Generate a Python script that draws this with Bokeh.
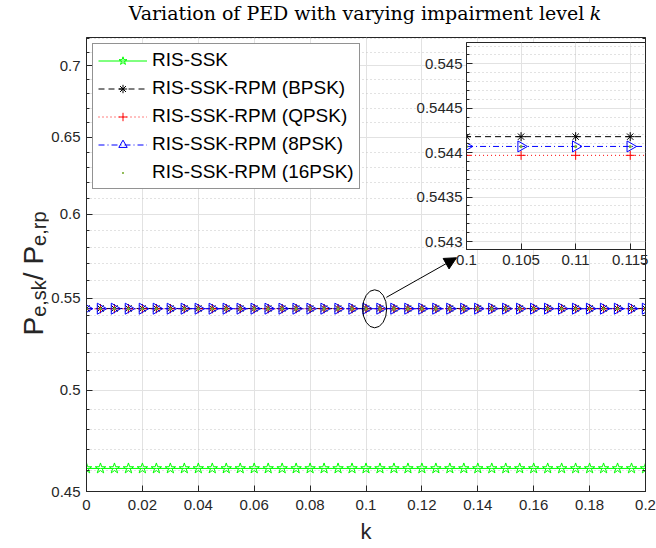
import numpy as np
from bokeh.plotting import figure
from bokeh.layouts import column, row
from bokeh.core.properties import value
from bokeh.models import (FixedTicker, CustomJSTickFormatter, Arrow, NormalHead,
                          Legend, LegendItem, LogAxis, Range1d)
from bokeh.embed import file_html
from bokeh.resources import INLINE

# ---------------- data ----------------
k_values = [0.0, 0.005, 0.01, 0.015, 0.02, 0.025, 0.03, 0.035, 0.04, 0.045,
            0.05, 0.055, 0.06, 0.065, 0.07, 0.075, 0.08, 0.085, 0.09, 0.095,
            0.1, 0.105, 0.11, 0.115, 0.12, 0.125, 0.13, 0.135, 0.14, 0.145,
            0.15, 0.155, 0.16, 0.165, 0.17, 0.175, 0.18, 0.185, 0.19, 0.195, 0.2]
ris_ssk = [0.4609, 0.4609, 0.4609, 0.4609, 0.4609, 0.4609, 0.4609, 0.4609, 0.4609, 0.4609,
           0.4609, 0.4609, 0.4609, 0.4609, 0.4609, 0.4609, 0.4609, 0.4609, 0.4609, 0.4609,
           0.4609, 0.4609, 0.4609, 0.4609, 0.4609, 0.4609, 0.4609, 0.4609, 0.4609, 0.4609,
           0.4609, 0.4609, 0.4609, 0.4609, 0.4609, 0.4609, 0.4609, 0.4609, 0.4609, 0.4609, 0.4609]
rpm_bpsk = [0.54418, 0.54418, 0.54418, 0.54418, 0.54418, 0.54418, 0.54418, 0.54418, 0.54418, 0.54418,
            0.54418, 0.54418, 0.54418, 0.54418, 0.54418, 0.54418, 0.54418, 0.54418, 0.54418, 0.54418,
            0.54418, 0.54418, 0.54418, 0.54418, 0.54418, 0.54418, 0.54418, 0.54418, 0.54418, 0.54418,
            0.54418, 0.54418, 0.54418, 0.54418, 0.54418, 0.54418, 0.54418, 0.54418, 0.54418, 0.54418, 0.54418]
rpm_qpsk = [0.54397, 0.54397, 0.54397, 0.54397, 0.54397, 0.54397, 0.54397, 0.54397, 0.54397, 0.54397,
            0.54397, 0.54397, 0.54397, 0.54397, 0.54397, 0.54397, 0.54397, 0.54397, 0.54397, 0.54397,
            0.54397, 0.54397, 0.54397, 0.54397, 0.54397, 0.54397, 0.54397, 0.54397, 0.54397, 0.54397,
            0.54397, 0.54397, 0.54397, 0.54397, 0.54397, 0.54397, 0.54397, 0.54397, 0.54397, 0.54397, 0.54397]
rpm_8psk = [0.54407, 0.54407, 0.54407, 0.54407, 0.54407, 0.54407, 0.54407, 0.54407, 0.54407, 0.54407,
            0.54407, 0.54407, 0.54407, 0.54407, 0.54407, 0.54407, 0.54407, 0.54407, 0.54407, 0.54407,
            0.54407, 0.54407, 0.54407, 0.54407, 0.54407, 0.54407, 0.54407, 0.54407, 0.54407, 0.54407,
            0.54407, 0.54407, 0.54407, 0.54407, 0.54407, 0.54407, 0.54407, 0.54407, 0.54407, 0.54407, 0.54407]
rpm_16psk = [0.54407, 0.54407, 0.54407, 0.54407, 0.54407, 0.54407, 0.54407, 0.54407, 0.54407, 0.54407,
             0.54407, 0.54407, 0.54407, 0.54407, 0.54407, 0.54407, 0.54407, 0.54407, 0.54407, 0.54407,
             0.54407, 0.54407, 0.54407, 0.54407, 0.54407, 0.54407, 0.54407, 0.54407, 0.54407, 0.54407,
             0.54407, 0.54407, 0.54407, 0.54407, 0.54407, 0.54407, 0.54407, 0.54407, 0.54407, 0.54407, 0.54407]

series_labels = ["RIS-SSK", "RIS-SSK-RPM (BPSK)", "RIS-SSK-RPM (QPSK)",
                 "RIS-SSK-RPM (8PSK)", "RIS-SSK-RPM (16PSK)"]

x_ticks = [0, 0.02, 0.04, 0.06, 0.08, 0.1, 0.12, 0.14, 0.16, 0.18, 0.2]
y_ticks = [0.45, 0.5, 0.55, 0.6, 0.65, 0.7]
y_minor = [0.46, 0.47, 0.48, 0.49, 0.51, 0.52, 0.53, 0.54, 0.56, 0.57, 0.58, 0.59,
           0.61, 0.62, 0.63, 0.64, 0.66, 0.67, 0.68, 0.69, 0.71, 0.72]

inset_x_ticks = [0.1, 0.105, 0.11, 0.115]
inset_y_ticks = [0.543, 0.5435, 0.544, 0.5445, 0.545]
inset_y_minor = [0.5429, 0.5431, 0.5432, 0.5433, 0.5434, 0.5436, 0.5437, 0.5438, 0.5439,
                 0.5441, 0.5442, 0.5443, 0.5444, 0.5446, 0.5447, 0.5448, 0.5449, 0.5451, 0.5452]

title_main = "Variation of PED with varying impairment level"
title_var = "k"
x_label = "k"
# y label "P_{e,sk}/ P_{e,rp}" as (text, is_subscript)
y_label_parts = [("P", False), ("e,sk", True), ("/ ", False), ("P", False), ("e,rp", True)]

# zoom marker (ellipse) and arrow end points, in data units
zoom_center = (0.1031, 0.544)
arrow_start = (0.1073, 0.5505)
arrow_end = (0.1324, 0.5736)

TXT = "#262626"
GRID = "#e2e2e2"
MINOR = "#c4c4c4"
FONT = "Liberation Sans"
H = 548
TOP = 37          # height of the title strip (frame top)
YW = 48           # visible width of the y-label strip
YS = 100          # drawn width of the y-label strip (overlapped by the main plot)
FW, FH = 559, 454
PL, PR, PB = 86 - YW, 11, 57
PW = PL + FW + PR

def tostr():
    return CustomJSTickFormatter(code="return tick.toString();")

def blank():
    return CustomJSTickFormatter(code="return '';")

def style_axis(ax, minor=True):
    ax.axis_line_color = TXT
    ax.major_tick_line_color = TXT
    ax.minor_tick_line_color = TXT if minor else None
    ax.major_tick_in = 6
    ax.major_tick_out = 0
    ax.minor_tick_in = 3
    ax.minor_tick_out = 0
    ax.major_label_text_color = TXT
    ax.major_label_text_font = FONT
    ax.major_label_text_font_size = "15px"

def text_strip(w, h):
    f = figure(width=w, height=h, x_range=Range1d(0, w), y_range=Range1d(0, h),
               x_axis_location=None, y_axis_location=None, title_location=None,
               output_backend="svg", toolbar_location=None, min_border=0)
    f.grid.visible = False
    f.outline_line_color = None
    f.background_fill_alpha = 0
    f.border_fill_alpha = 0
    return f

def add_series(fig, xr):
    rs = []
    l0 = fig.line(xr, ris_ssk, line_color="#00ff00", line_width=1)
    m0 = fig.scatter(xr, ris_ssk, marker="star", size=11, line_color="#00ff00", fill_color=None)
    rs.append([l0, m0])
    l1 = fig.line(xr, rpm_bpsk, line_color="black", line_width=1, line_dash="6 4")
    m1 = fig.scatter(xr, rpm_bpsk, marker="asterisk", size=9, line_color="black")
    rs.append([l1, m1])
    l2 = fig.line(xr, rpm_qpsk, line_color="#ff0000", line_width=1, line_dash="1 3")
    m2 = fig.scatter(xr, rpm_qpsk, marker="cross", size=9, line_color="#ff0000")
    rs.append([l2, m2])
    l3 = fig.line(xr, rpm_8psk, line_color="#0000ff", line_width=1, line_dash="6 3 1 3")
    m3 = fig.scatter(xr, rpm_8psk, marker="triangle", angle=-np.pi / 2, size=11,
                     line_color="#0000ff", fill_color=None)
    rs.append([l3, m3])
    m4 = fig.scatter(xr, rpm_16psk, marker="dot", size=12, line_color="#77ac30",
                     fill_color="#77ac30")
    rs.append([m4])
    return rs

# ---------------- y label strip ----------------
ylab = text_strip(YS, H)
F, f = 28, 20
widths = {"P": 0.667, "e,sk": 1.834, "/ ": 0.556, "e,rp": 1.723}
pos = H - 335
for txt, sub in y_label_parts:
    size = f if sub else F
    ylab.text(x=[33 + (0.2 * F if sub else 0)], y=[pos], text=[txt], angle=np.pi / 2,
              text_align="left", text_baseline="alphabetic",
              text_font=value(FONT), text_font_size=value(f"{size}px"), text_color=TXT)
    pos += widths[txt] * size

# ---------------- title strip ----------------
TS = 19
tfig = text_strip(PW, TOP)
w_main = 24.47 * TS
w_total = w_main + 0.318 * TS + 0.58 * TS
x_left = PL + FW / 2 - w_total / 2
tfig.text(x=[x_left + w_main], y=[TOP - 12], text=[title_main], text_align="right",
          text_baseline="middle", text_font=value("DejaVu Serif"),
          text_font_size=value(f"{TS}px"), text_color="black")
tfig.text(x=[x_left + w_main + 0.318 * TS], y=[TOP - 12], text=[title_var], text_align="left",
          text_baseline="middle", text_font=value("DejaVu Serif"), text_font_style="italic",
          text_font_size=value(f"{TS}px"), text_color="black")

# ---------------- main figure ----------------
p = figure(frame_width=FW, frame_height=FH, x_range=Range1d(0, 0.2),
           y_range=Range1d(0.45, 0.721), y_axis_type="log", title_location=None,
           output_backend="svg", toolbar_location=None,
           min_border_left=PL, min_border_right=PR, min_border_top=0, min_border_bottom=PB)
p.outline_line_color = TXT
p.background_fill_color = "white"
p.border_fill_color = "white"

p.xaxis.ticker = FixedTicker(ticks=x_ticks, minor_ticks=[])
p.xaxis.formatter = tostr()
p.xaxis.major_label_standoff = 8
p.xaxis.axis_label = x_label
p.xaxis.axis_label_text_font = FONT
p.xaxis.axis_label_text_font_size = "22px"
p.xaxis.axis_label_text_font_style = "normal"
p.xaxis.axis_label_text_color = TXT
p.xaxis.axis_label_standoff = 6
p.yaxis.ticker = FixedTicker(ticks=y_ticks, minor_ticks=y_minor)
p.yaxis.formatter = tostr()
p.yaxis.major_label_standoff = 6
for ax in p.xaxis:
    style_axis(ax, minor=False)
for ax in p.yaxis:
    style_axis(ax)

right_ax = LogAxis(ticker=FixedTicker(ticks=y_ticks, minor_ticks=y_minor), formatter=blank(),
                   major_label_standoff=0)
style_axis(right_ax)
p.add_layout(right_ax, "right")

p.xgrid.grid_line_color = GRID
p.ygrid.grid_line_color = GRID
p.ygrid.minor_grid_line_color = MINOR
p.ygrid.minor_grid_line_dash = "1 3"

renderers = add_series(p, k_values)

legend = Legend(items=[LegendItem(label=lab, renderers=r) for lab, r in zip(series_labels, renderers)],
                location="top_left")
legend.label_text_font = FONT
legend.label_text_font_size = "19px"
legend.label_text_color = "black"
legend.border_line_color = TXT
legend.border_line_width = 1
legend.background_fill_alpha = 1
legend.glyph_width = 49
legend.glyph_height = 21
legend.label_height = 21
legend.spacing = 6
legend.padding = 5
legend.margin = 6
legend.label_standoff = 5
p.add_layout(legend)

p.ellipse(x=[zoom_center[0]], y=[zoom_center[1]], width=24, height=38,
          width_units="screen", height_units="screen", fill_color=None, line_color="black")
p.add_layout(Arrow(end=NormalHead(size=12, fill_color="black", line_color="black"),
                   x_start=arrow_start[0], y_start=arrow_start[1],
                   x_end=arrow_end[0], y_end=arrow_end[1], line_color="black", line_width=1))

# ---------------- inset ----------------
IL, IT, IR, IB = 70, 5, 10, 30
IFW, IFH = 179, 207
inset = figure(frame_width=IFW, frame_height=IFH, x_range=Range1d(0.1, 0.1164),
               y_range=Range1d(0.54291, 0.54524), title_location=None,
               output_backend="svg", toolbar_location=None,
               min_border_left=IL, min_border_right=IR, min_border_top=IT, min_border_bottom=IB)
inset.border_fill_alpha = 0
inset.background_fill_color = "white"
inset.outline_line_color = TXT
inset.xaxis.ticker = FixedTicker(ticks=inset_x_ticks, minor_ticks=[])
inset.xaxis.formatter = tostr()
inset.xaxis.major_label_standoff = 5
inset.yaxis.ticker = FixedTicker(ticks=inset_y_ticks, minor_ticks=inset_y_minor)
inset.yaxis.formatter = tostr()
inset.yaxis.major_label_standoff = 4
for ax in inset.xaxis:
    style_axis(ax, minor=False)
for ax in inset.yaxis:
    style_axis(ax)
inset.xgrid.grid_line_color = GRID
inset.ygrid.grid_line_color = GRID
inset.ygrid.minor_grid_line_color = MINOR
inset.ygrid.minor_grid_line_dash = "1 3"
add_series(inset, k_values)

inset_h = IT + IFH + IB
top_off = 42 - IT
inset.margin = (top_off - H, 0, H - top_off - inset_h, 466 - IL)

right_col = column(tfig, p, spacing=0)
right_col.margin = (0, 0, 0, YW - YS)
layout = column(row(ylab, right_col, spacing=0), inset, spacing=0)
open("out.html", "w").write(file_html(layout, INLINE))
